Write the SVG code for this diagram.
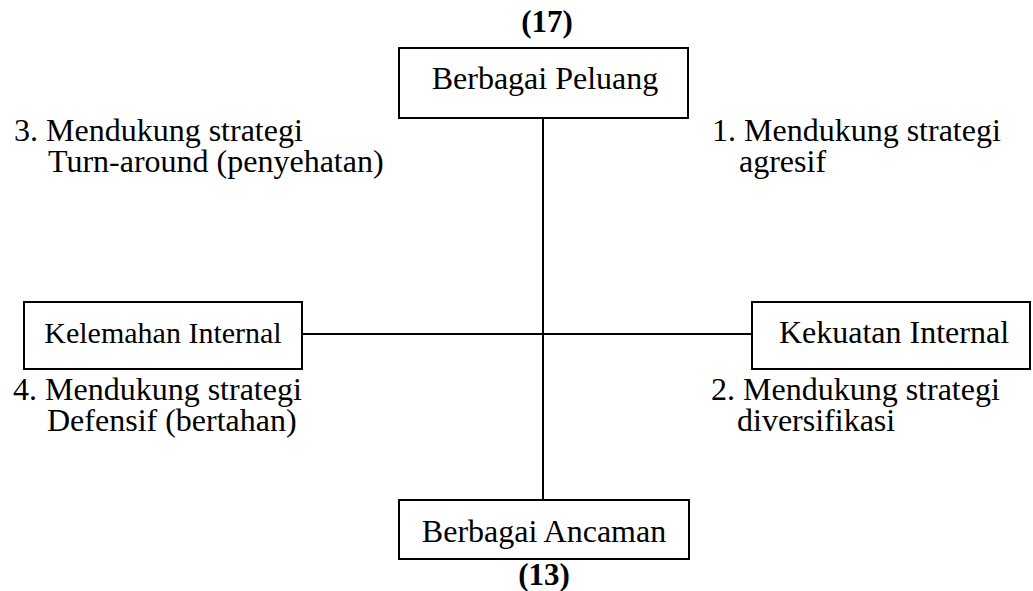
<svg xmlns="http://www.w3.org/2000/svg" width="1033" height="591" viewBox="0 0 1033 591">
<style>
.box{fill:#fff;stroke:#000;stroke-width:2}
.ln{stroke:#000;stroke-width:2;fill:none}
text{font-family:"Liberation Serif","Times New Roman",serif;fill:#000;font-size:32px}
.c{text-anchor:middle}
.b{font-weight:bold;font-size:31px}
</style>
<rect width="1033" height="591" fill="#fff"/>
<g id="connectors">
<line class="ln" x1="543" y1="118" x2="543" y2="500"/>
<line class="ln" x1="302" y1="334" x2="752" y2="334"/>
</g>
<g id="node-peluang">
<text class="c b" x="547" y="32">(17)</text>
<rect class="box" x="399" y="48" width="289" height="70"/>
<text class="c" x="545" y="89">Berbagai Peluang</text>
</g>
<g id="node-ancaman">
<rect class="box" x="399" y="500" width="290" height="59"/>
<text class="c" x="544" y="542">Berbagai Ancaman</text>
<text class="c b" x="544" y="585">(13)</text>
</g>
<g id="node-kelemahan">
<rect class="box" x="24" y="302" width="278" height="67"/>
<text class="c" x="163" y="343" style="font-size:30px">Kelemahan Internal</text>
</g>
<g id="node-kekuatan">
<rect class="box" x="752" y="302" width="278" height="67"/>
<text class="c" x="894" y="343">Kekuatan Internal</text>
</g>
<g id="labels">
<text x="14" y="141">3. Mendukung strategi<tspan x="48" y="172">Turn-around (penyehatan)</tspan></text>
<text x="712" y="141">1. Mendukung strategi<tspan x="739" y="172">agresif</tspan></text>
<text x="13" y="400">4. Mendukung strategi<tspan x="47" y="431">Defensif (bertahan)</tspan></text>
<text x="711" y="400">2. Mendukung strategi<tspan x="737" y="431">diversifikasi</tspan></text>
</g>
</svg>
